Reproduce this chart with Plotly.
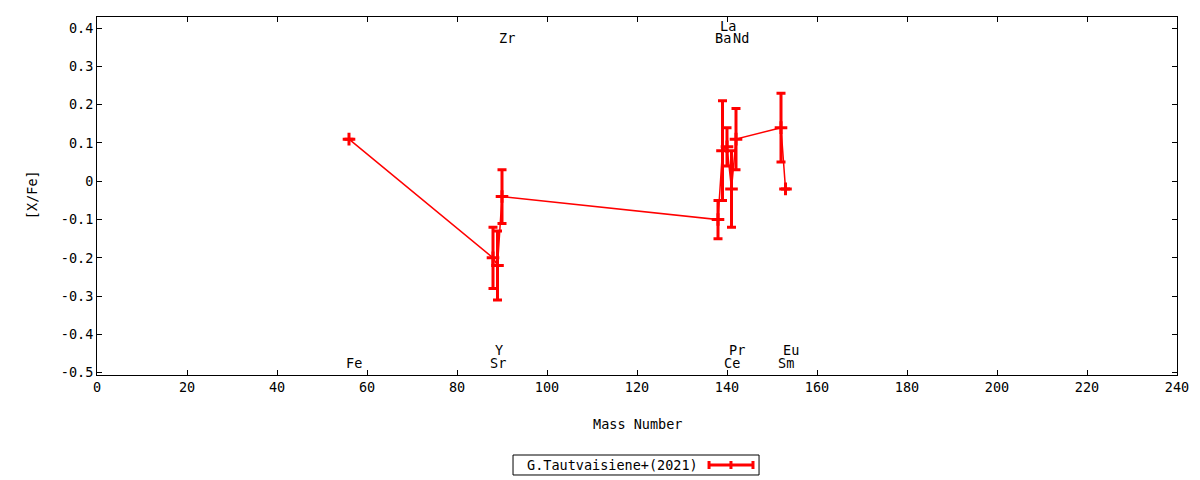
import plotly.graph_objects as go

# abundance data
elements = ["Fe", "Sr", "Y", "Zr", "Ba", "La", "Ce", "Pr", "Nd", "Sm", "Eu"]
mass = [56, 88, 89, 90, 138, 139, 140, 141, 142, 152, 153]
xfe = [0.11, -0.20, -0.22, -0.04, -0.10, 0.08, 0.09, -0.02, 0.11, 0.14, -0.02]
err = [0.0, 0.08, 0.09, 0.07, 0.05, 0.13, 0.05, 0.10, 0.08, 0.09, 0.0]

# label rows for the element names (top/bottom, staggered)
label_y = [-0.475, -0.475, -0.44, 0.375, 0.375, 0.405, -0.475, -0.44, 0.375, -0.475, -0.44]

FONT = "DejaVu Sans Mono"
FS = 13.5
RED = "#ff0000"

fig = go.Figure()

fig.add_trace(go.Scatter(
    x=mass, y=xfe,
    mode="lines+markers",
    line=dict(color=RED, width=1.5),
    marker=dict(symbol="cross-thin", size=9, color=RED,
                line=dict(color=RED, width=3)),
    error_y=dict(type="data", array=err, visible=True,
                 color=RED, thickness=3, width=4.5),
    name="G.Tautvaisiene+(2021)",
    showlegend=False,
))

# element names
for el, m, ly in zip(elements, mass, label_y):
    fig.add_annotation(x=m, y=ly, text=el, showarrow=False,
                       xanchor="left", yanchor="middle", xshift=-5,
                       font=dict(family=FONT, size=FS, color="black"))

# axis titles
fig.add_annotation(x=0.5, y=-0.137, xref="paper", yref="paper",
                   text="Mass Number", showarrow=False,
                   xanchor="center", yanchor="middle",
                   font=dict(family=FONT, size=FS, color="black"))
fig.add_annotation(x=-0.060, y=0.503, xref="paper", yref="paper",
                   text="[X/Fe]", showarrow=False, textangle=-90,
                   xanchor="center", yanchor="middle",
                   font=dict(family=FONT, size=FS, color="black"))

# hand-built legend box (gnuplot style: text then sample)
fig.add_shape(type="rect", xref="paper", yref="paper",
              x0=0.3852, x1=0.6130, y0=-0.2235, y1=-0.2793,
              line=dict(color="black", width=1))
fig.add_annotation(x=0.5583, y=-0.2514, xref="paper", yref="paper",
                   text="G.Tautvaisiene+(2021)", showarrow=False,
                   xanchor="right", yanchor="middle",
                   font=dict(family=FONT, size=FS, color="black"))
fig.add_shape(type="line", xref="paper", yref="paper",
              x0=0.5667, x1=0.6074, y0=-0.2514, y1=-0.2514,
              line=dict(color=RED, width=3))
for cx in [0.5667, 0.5870, 0.6074]:
    fig.add_shape(type="line", xref="paper", yref="paper",
                  x0=cx, x1=cx, y0=-0.2402, y1=-0.2626,
                  line=dict(color=RED, width=3))

axis_common = dict(
    showline=True, linecolor="black", linewidth=1, mirror="allticks",
    ticks="inside", ticklen=5, tickcolor="black", showgrid=False,
    zeroline=False, tickfont=dict(family=FONT, size=FS, color="black"),
)

fig.update_xaxes(range=[0, 240], tickvals=list(range(0, 241, 20)), **axis_common)
yticks = [-0.5, -0.4, -0.3, -0.2, -0.1, 0, 0.1, 0.2, 0.3, 0.4]
fig.update_yaxes(range=[-0.506, 0.429], tickvals=yticks,
                 ticktext=["0" if v == 0 else f"{v:g}" for v in yticks],
                 **axis_common)

fig.update_layout(
    width=1200, height=480,
    margin=dict(l=97, r=23, t=17, b=105),
    plot_bgcolor="white", paper_bgcolor="white",
    showlegend=False,
)

# drop the default 8px body margin so the figure fills the window exactly
fig.write_html("out.html",
               config={"displayModeBar": False},
               post_script="document.body.style.margin='0px';"
                           "document.body.style.overflow='hidden';")
